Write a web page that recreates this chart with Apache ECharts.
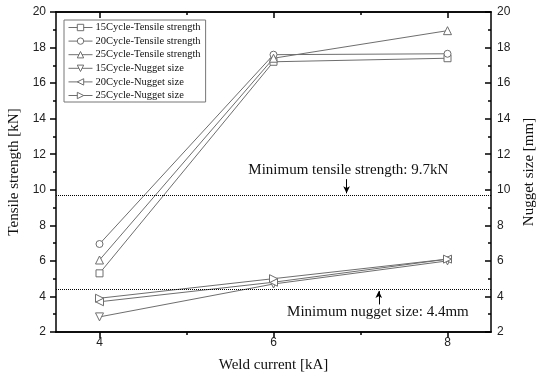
<!DOCTYPE html>
<html>
<head>
<meta charset="utf-8">
<script src="https://cdn.jsdelivr.net/npm/echarts@6/dist/echarts.min.js"></script>
<style>
  html, body { margin: 0; padding: 0; background: #fff; }
  #chart { width: 536px; height: 377px; }
</style>
</head>
<body>
<div id="chart"></div>
<script>
// weld current [kA]
const currents = [4, 6, 8];
const tensile15 = [5.3, 17.2, 17.4];
const tensile20 = [6.95, 17.6, 17.65];
const tensile25 = [6.05, 17.4, 18.95];
const nugget15 = [2.85, 4.7, 6.0];
const nugget20 = [3.7, 4.8, 6.1];
const nugget25 = [3.9, 5.0, 6.1];
const minTensile = 9.7;
const minNugget = 4.4;
const xMajorTicks = [4, 6, 8];
const xMinorTicks = [5, 7];

const serif = '"Liberation Serif", "Times New Roman", serif';
const sans = '"Liberation Sans", Arial, sans-serif';
const lineGrey = '#6e6e6e';

function pairs(ys) {
    return currents.map((x, i) => [x, ys[i]]);
}

function makeSeries(name, ys, symbol, rotate, yIdx) {
    return {
        name: name,
        type: 'line',
        data: pairs(ys),
        yAxisIndex: yIdx,
        symbol: symbol,
        symbolRotate: rotate,
        symbolSize: symbol === 'triangle' ? 8 : 7,
        showAllSymbol: true,
        color: lineGrey,
        lineStyle: { color: lineGrey, width: 1 },
        itemStyle: { color: '#fff', borderColor: lineGrey, borderWidth: 1 },
        animation: false,
        z: 3
    };
}

function xAxisDef(pos, ticks, len, inside) {
    return {
        type: 'value', min: 3.5, max: 8.5, position: pos,
        axisLine: { show: true, onZero: false, lineStyle: { color: '#000', width: 1.5 } },
        axisTick: { show: true, inside: inside, length: len, customValues: ticks, lineStyle: { color: '#000', width: 1.5 } },
        axisLabel: { show: false },
        splitLine: { show: false }
    };
}

const chart = echarts.init(document.getElementById('chart'));

const xAxes = [
    {
        type: 'value', min: 3.5, max: 8.5, position: 'bottom',
        name: 'Weld current [kA]', nameLocation: 'middle', nameGap: 26,
        nameTextStyle: { fontFamily: serif, fontSize: 15, color: '#111' },
        axisLine: { show: true, onZero: false, lineStyle: { color: '#000', width: 1.5 } },
        axisTick: { show: true, length: 6, customValues: xMajorTicks, lineStyle: { color: '#000', width: 1.5 } },
        axisLabel: { show: true, customValues: xMajorTicks, fontFamily: sans, fontSize: 12, color: '#222', margin: 5 },
        splitLine: { show: false }
    },
    xAxisDef('bottom', xMinorTicks, 3, false),
    xAxisDef('top', xMajorTicks, 6, true),
    xAxisDef('top', xMinorTicks, 3, true)
];

function yAxisDef(pos, name, gap, inside) {
    return {
        type: 'value', min: 2, max: 20, interval: 2, position: pos,
        name: name, nameLocation: 'middle', nameGap: gap,
        nameTextStyle: { fontFamily: serif, fontSize: 15, color: '#111' },
        axisLine: { show: true, onZero: false, lineStyle: { color: '#000', width: 1.5 } },
        axisTick: { show: true, inside: inside, length: 6, lineStyle: { color: '#000', width: 1.5 } },
        minorTick: { show: true, splitNumber: 2, length: 3, lineStyle: { color: '#000', width: 1.5 } },
        axisLabel: { fontFamily: sans, fontSize: 12, color: '#222', margin: inside ? 6 : 10 },
        splitLine: { show: false }
    };
}

const yAxes = [
    yAxisDef('left', 'Tensile strength [kN]', 31, false),
    yAxisDef('right', 'Nugget size [mm]', 30, true)
];
// minor ticks inside on the right axis
yAxes[1].minorTick.inside = true;

const refLineStyle = { color: '#000', type: [1, 1], width: 1 };
const arrowStyle = { color: '#000', type: 'solid', width: 1 };

const series = [
    makeSeries('15Cycle-Tensile strength', tensile15, 'rect', 0, 0),
    makeSeries('20Cycle-Tensile strength', tensile20, 'circle', 0, 0),
    makeSeries('25Cycle-Tensile strength', tensile25, 'triangle', 0, 0),
    makeSeries('15Cycle-Nugget size', nugget15, 'triangle', 180, 1),
    makeSeries('20Cycle-Nugget size', nugget20, 'triangle', 90, 1),
    makeSeries('25Cycle-Nugget size', nugget25, 'triangle', -90, 1)
];

// reference lines and annotations
series[0].markLine = {
    silent: true, symbol: 'none', animation: false,
    label: { show: false },
    lineStyle: refLineStyle,
    data: [
        [{ coord: [3.5, minTensile] }, { coord: [8.5, minTensile] }],
        [{ coord: [3.5, minNugget] }, { coord: [8.5, minNugget] }],
        [{ coord: [6.84, 10.6], symbol: 'none', lineStyle: arrowStyle }, { coord: [6.84, 9.8], symbol: 'arrow', symbolSize: [5, 7] }],
        [{ coord: [7.21, 3.55], symbol: 'none', lineStyle: arrowStyle }, { coord: [7.21, 4.3], symbol: 'arrow', symbolSize: [5, 7] }]
    ]
};

series[0].markPoint = {
    silent: true, animation: false,
    symbol: 'circle', symbolSize: 1,
    itemStyle: { color: 'rgba(0,0,0,0)', borderWidth: 0 },
    label: { show: true, position: 'inside', fontFamily: serif, fontSize: 15, color: '#111' },
    data: [
        { coord: [6.86, 11.1], label: { formatter: 'Minimum tensile strength: 9.7kN' } },
        { coord: [7.2, 3.1], label: { formatter: 'Minimum nugget size: 4.4mm' } }
    ]
};

const option = {
    animation: false,
    backgroundColor: '#fff',
    grid: { left: 56, right: 45, top: 12, bottom: 45, containLabel: false, outerBoundsMode: 'none' },
    legend: {
        orient: 'vertical', left: 64, top: 20,
        backgroundColor: '#fff',
        borderColor: '#777', borderWidth: 1, borderRadius: 0,
        padding: [2, 5, 1, 4],
        itemWidth: 24, itemHeight: 8, itemGap: 2.6,
        lineStyle: { width: 1 },
        itemStyle: { borderWidth: 1 },
        textStyle: { fontFamily: serif, fontSize: 10.5, color: '#111', padding: [0, 0, 0, -2] },
        data: series.map(s => s.name)
    },
    xAxis: xAxes,
    yAxis: yAxes,
    series: series
};
chart.setOption(option);
</script>
</body>
</html>
